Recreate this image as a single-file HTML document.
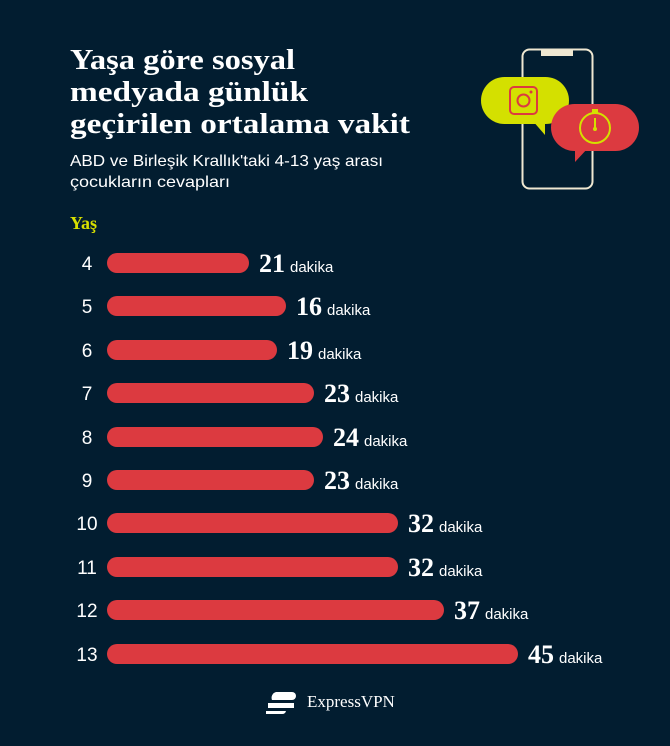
<!DOCTYPE html><html><head><meta charset="utf-8"><style>
body{margin:0;background:#021d30;}
svg{display:block}
.s{font-family:"Liberation Serif",serif;font-weight:bold;fill:#fff}
.a{font-family:"Liberation Sans",sans-serif;fill:#fff}
</style></head><body>
<svg width="670" height="746" viewBox="0 0 670 746">
<rect width="670" height="746" fill="#021d30"/>
<text class="s" x="70" y="69" font-size="29" textLength="225" lengthAdjust="spacingAndGlyphs">Yaşa göre sosyal</text>
<text class="s" x="70" y="101" font-size="29" textLength="238" lengthAdjust="spacingAndGlyphs">medyada günlük</text>
<text class="s" x="70" y="133" font-size="29" textLength="340" lengthAdjust="spacingAndGlyphs">geçirilen ortalama vakit</text>
<text class="a" x="70" y="166" font-size="16" textLength="313" lengthAdjust="spacingAndGlyphs">ABD ve Birleşik Krallık'taki 4-13 yaş arası</text>
<text class="a" x="70" y="187" font-size="16" textLength="160" lengthAdjust="spacingAndGlyphs">çocukların cevapları</text>
<text class="s" x="70" y="229" font-size="18" style="fill:#d8e000">Yaş</text>
<rect x="522.5" y="49.5" width="70" height="139" rx="7" fill="none" stroke="#efe8d2" stroke-width="2"/>
<rect x="541" y="49" width="32" height="7" fill="#efe8d2"/>
<rect x="481" y="77" width="88" height="47" rx="23.5" fill="#d4e000"/>
<polygon points="532,120 545,120 545,135" fill="#d4e000"/>
<rect x="510" y="87" width="27" height="27" rx="4" fill="none" stroke="#dc3a40" stroke-width="2"/>
<circle cx="523.5" cy="100.5" r="6" fill="none" stroke="#dc3a40" stroke-width="2"/>
<circle cx="531" cy="92" r="1.5" fill="#dc3a40"/>
<rect x="551" y="104" width="88" height="47" rx="23.5" fill="#dc3a40"/>
<polygon points="575,148 588,148 575,162" fill="#dc3a40"/>
<circle cx="595" cy="128" r="15" fill="none" stroke="#d4e000" stroke-width="2"/>
<rect x="592" y="109" width="6" height="4" fill="#d4e000"/>
<line x1="595" y1="118" x2="595" y2="129" stroke="#d4e000" stroke-width="2"/>
<circle cx="595" cy="129" r="2" fill="#d4e000"/>
<g font-size="19" class="a" text-anchor="middle">
<text x="87" y="270">4</text><text x="87" y="313">5</text><text x="87" y="357">6</text><text x="87" y="400">7</text><text x="87" y="444">8</text><text x="87" y="487">9</text><text x="87" y="530">10</text><text x="87" y="574">11</text><text x="87" y="617">12</text><text x="87" y="661">13</text>
</g>
<g fill="#dc3a40">
<rect x="107" y="253" width="142" height="20" rx="10"/>
<rect x="107" y="296" width="179" height="20" rx="10"/>
<rect x="107" y="340" width="170" height="20" rx="10"/>
<rect x="107" y="383" width="207" height="20" rx="10"/>
<rect x="107" y="427" width="216" height="20" rx="10"/>
<rect x="107" y="470" width="207" height="20" rx="10"/>
<rect x="107" y="513" width="291" height="20" rx="10"/>
<rect x="107" y="557" width="291" height="20" rx="10"/>
<rect x="107" y="600" width="337" height="20" rx="10"/>
<rect x="107" y="644" width="411" height="20" rx="10"/>
</g>
<g>
<text x="259" y="272"><tspan class="s" font-size="26">21</tspan><tspan class="a" font-size="15" dx="5">dakika</tspan></text>
<text x="296" y="315"><tspan class="s" font-size="26">16</tspan><tspan class="a" font-size="15" dx="5">dakika</tspan></text>
<text x="287" y="359"><tspan class="s" font-size="26">19</tspan><tspan class="a" font-size="15" dx="5">dakika</tspan></text>
<text x="324" y="402"><tspan class="s" font-size="26">23</tspan><tspan class="a" font-size="15" dx="5">dakika</tspan></text>
<text x="333" y="446"><tspan class="s" font-size="26">24</tspan><tspan class="a" font-size="15" dx="5">dakika</tspan></text>
<text x="324" y="489"><tspan class="s" font-size="26">23</tspan><tspan class="a" font-size="15" dx="5">dakika</tspan></text>
<text x="408" y="532"><tspan class="s" font-size="26">32</tspan><tspan class="a" font-size="15" dx="5">dakika</tspan></text>
<text x="408" y="576"><tspan class="s" font-size="26">32</tspan><tspan class="a" font-size="15" dx="5">dakika</tspan></text>
<text x="454" y="619"><tspan class="s" font-size="26">37</tspan><tspan class="a" font-size="15" dx="5">dakika</tspan></text>
<text x="528" y="663"><tspan class="s" font-size="26">45</tspan><tspan class="a" font-size="15" dx="5">dakika</tspan></text>
</g>
<g fill="#fff">
<path d="M276 692 h16 a4 4 0 0 1 0 8 h-20 a6 6 0 0 1 4 -8 z"/>
<path d="M268 703 h26 v5 h-26 z"/>
<path d="M266 711 h20 a4 4 0 0 1 -4 3 h-16 z"/>
</g>
<text x="307" y="707" font-family="Liberation Serif,serif" font-size="17" fill="#fff">ExpressVPN</text>
</svg>
</body></html>
